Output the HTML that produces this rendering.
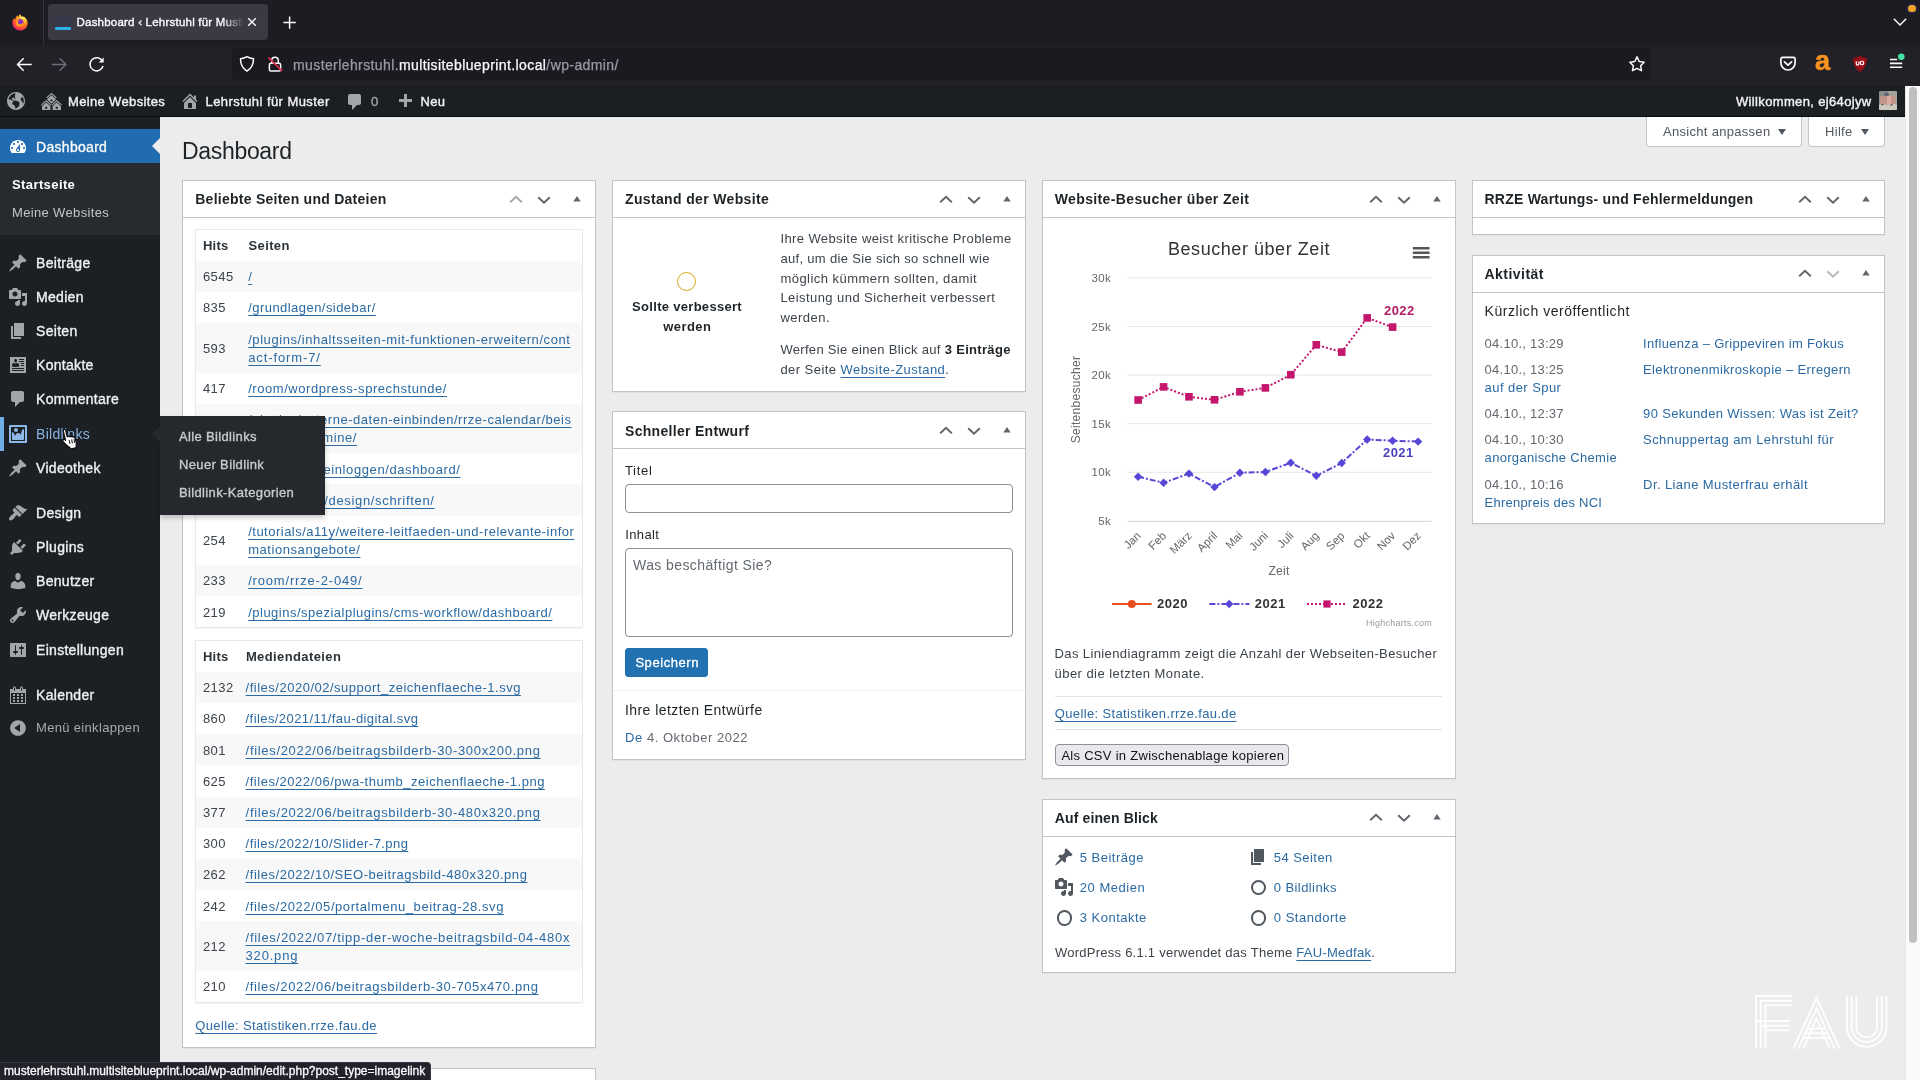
<!DOCTYPE html>
<html lang="de">
<head>
<meta charset="utf-8">
<title>Dashboard ‹ Lehrstuhl für Muster</title>
<style>
*{box-sizing:border-box}
html,body{margin:0;padding:0;width:1920px;height:1080px;overflow:hidden;background:#ececec}
body{opacity:.999;font-family:"Liberation Sans",sans-serif;font-size:13px;line-height:1.4;color:#3c434a;letter-spacing:.35px;position:relative}
a{color:#2271b1;text-decoration:underline}
svg{display:block}
.abs{position:absolute}

/* ---------- browser chrome ---------- */
#chrome{position:absolute;left:0;top:0;width:1920px;height:86px;background:#1c1b22;z-index:50;letter-spacing:0}
#tabstrip{position:absolute;left:0;top:0;width:1920px;height:45px;background:#1d1c23}
#navbar{position:absolute;left:0;top:45px;width:1920px;height:41px;background:#222128}
#tab{position:absolute;left:47.7px;top:4px;width:220.2px;height:36px;background:#3a3944;border-radius:4px}
#tabsep{position:absolute;left:43px;top:0;width:1px;height:45px;background:#34333d}
#tabtitle{position:absolute;left:76.5px;top:14.2px;width:168px;height:17px;overflow:hidden;white-space:nowrap;color:#fbfbfe;font-size:11.5px;font-weight:400;line-height:17px;letter-spacing:.22px;-webkit-text-stroke:.35px #fbfbfe;
 -webkit-mask-image:linear-gradient(90deg,#000 0,#000 146px,transparent 167px);mask-image:linear-gradient(90deg,#000 0,#000 146px,transparent 167px)}
#urlbar{position:absolute;left:232px;top:48px;width:1419px;height:32px;background:#1b1a20;border-radius:4px}
#urltext{position:absolute;left:293px;top:55.7px;font-size:14px;line-height:18px;color:#9a9aa6;-webkit-text-stroke:.25px currentColor;white-space:nowrap;letter-spacing:.4px}
#urltext b{color:#fbfbfe;font-weight:400}

/* ---------- WP admin bar ---------- */
#wpadminbar{position:absolute;left:0;top:86px;width:1904.5px;height:31px;background:#1c1f22;color:#f0f0f1;z-index:40;font-size:13px;line-height:32px;border-bottom:1px solid #0a0c0d}
#wpadminbar .t{position:absolute;top:0;white-space:nowrap;color:#f0f0f1;-webkit-text-stroke:.4px #f0f0f1}
#wpadminbar .i{position:absolute}

/* ---------- sidebar ---------- */
#adminmenuback{position:absolute;left:0;top:117px;width:160px;height:963px;background:#1c2024;z-index:10}
#adminmenu{position:absolute;left:0;top:128.6px;width:160px;z-index:11;margin:0;padding:0;list-style:none;color:#f0f0f1}
#adminmenu li{margin:0;padding:0;list-style:none;position:relative}
#adminmenu .top{display:block;height:34.2px;position:relative;font-size:14px;line-height:18.2px;color:#f0f0f1;-webkit-text-stroke:.35px #f0f0f1}
#adminmenu .top .n{position:absolute;left:36px;top:8px;white-space:nowrap;letter-spacing:.3px}
#adminmenu .top .ic{position:absolute;left:8px;top:7px;width:20px;height:20px}
#adminmenu .sep{height:5px;margin:0 0 6px}
#adminmenu .cur{background:#216bb0}
#adminmenu .cur .n{top:9.1px!important}
#adminmenu .cur .ic{top:8px!important}
#adminmenu .cur:after{content:"";position:absolute;right:0;top:9px;border:8px solid transparent;border-right-color:#ececec}
#adminmenu .sub{background:#272b2f;padding:8.1px 0 7.3px;margin:0}
#adminmenu .sub div{padding:5px 12px;font-size:13px;line-height:18.2px;color:#c3c4c7;white-space:nowrap}
#adminmenu .sub div.c{color:#fff;font-weight:700;letter-spacing:.4px}
#flyout{position:absolute;left:160px;top:416px;width:164.5px;height:99px;background:#25292d;z-index:30;box-shadow:0 3px 5px rgba(0,0,0,.2);padding:7px 0 8px}
#flyout:before{content:"";position:absolute;left:-8px;top:10px;border:8px solid transparent;border-left:0;border-right-color:#25292d}
#flyout div{padding:5px 12px 5px 19px;font-size:13px;line-height:18.2px;color:#c9cacd;white-space:nowrap;-webkit-text-stroke:.35px #c9cacd}

/* ---------- content ---------- */
#wpcontent{position:absolute;left:160px;top:117px;width:1745px;height:963px;background:#ececec;overflow:hidden}
h1{position:absolute;left:22px;top:20px;margin:0;font-size:23px;font-weight:400;line-height:29.9px;color:#1d2327;letter-spacing:-.32px;white-space:nowrap}
.metalink{position:absolute;top:0;height:30px;background:#fff;border:1px solid #c3c4c7;border-top:none;border-radius:0 0 4px 4px;color:#50575e;font-size:13px;line-height:30px;white-space:nowrap}
.postbox{position:absolute;background:#fff;border:1px solid #c3c4c7;box-shadow:0 1px 1px rgba(0,0,0,.04)}
.postbox .hd{position:relative;height:36.9px;border-bottom:1px solid #c3c4c7}
.postbox .hd h2{position:absolute;left:12px;top:9.4px;margin:0;font-size:14px;font-weight:700;line-height:19.6px;color:#1d2327;white-space:nowrap;letter-spacing:.2px}
.postbox .hd svg{position:absolute;top:0}
.inside{position:relative;padding:0 12px 12px;margin:11px 0 0}

.ln{position:absolute;white-space:pre}
.ln span{text-decoration-thickness:1px;text-underline-offset:2.6px;text-decoration-color:rgba(43,106,162,.7)}
.tri{position:absolute;top:11.5px;width:0;height:0;border:4px solid transparent;border-top:6px solid #50575e;border-bottom:0}
/* scrollbar */
#sb{position:absolute;left:1905px;top:85px;width:15px;height:995px;background:#fafafa;border-left:1px solid #e8e8e8;z-index:45}
#sb i{position:absolute;left:3px;top:2.2px;width:8px;height:856px;border-radius:4px;background:#c0c0c0}
#status{position:absolute;left:0;top:1062px;height:18px;width:431px;background:#23222b;color:#fbfbfe;font-size:12px;line-height:17px;padding-left:4px;border-top-right-radius:4px;border-top:1px solid #3a3944;border-right:1px solid #3a3944;z-index:60;white-space:nowrap;letter-spacing:0;-webkit-text-stroke:.3px #fbfbfe}
</style>
</head>
<body>

<!-- ================= BROWSER CHROME ================= -->
<div id="chrome">
  <div id="tabstrip"></div>
  <div id="navbar"></div>
  <div id="tabsep"></div>
  <div id="tab"></div>
  <div id="tabtitle">Dashboard ‹ Lehrstuhl für Muster ‹ FAU</div>
  <div id="urlbar"></div>
  <div id="urltext">musterlehrstuhl.<b>multisiteblueprint.local</b>/wp-admin/</div>
  <!--FIREFOX-ICONS-->
  <svg class="abs" style="left:11px;top:13px" width="18" height="18" viewBox="0 0 18 18"><defs>
<radialGradient id="ffa" cx="70%" cy="18%" r="95%"><stop offset="0" stop-color="#fff36e"/><stop offset=".28" stop-color="#ffbd2e"/><stop offset=".55" stop-color="#ff7a16"/><stop offset=".8" stop-color="#ff3750"/><stop offset="1" stop-color="#e31587"/></radialGradient>
<radialGradient id="ffb" cx="50%" cy="45%" r="50%"><stop offset="0" stop-color="#6a2bd9"/><stop offset=".7" stop-color="#9b2fc5"/><stop offset="1" stop-color="#d6306f" stop-opacity="0"/></radialGradient></defs>
<path d="M9.2 1.2c.9 1 1.3 1.9 1.5 2.6 1.2-.5 2.300-.2 3.100.5 2.100 1.700 3.100 4 2.800 6.600-.5 3.900-3.700 6.500-7.500 6.500-4.300 0-7.700-3.300-7.700-7.600 0-2 .7-3.600 1.800-4.800.1.800.5 1.500 1 2 .1-2.200 1.200-3.800 2.700-4.700 0 .9.300 1.700.9 2.200C7.600 3 8.100 1.900 9.200 1.200z" fill="url(#ffa)"/>
<circle cx="9.200" cy="9.600" r="3.900" fill="url(#ffb)"/>
<path d="M5.300 8.500c.9-1.300 2.500-1.700 3.700-1.100-1.300.1-2 .9-2 1.900 0 1.300 1.200 2.200 2.600 2 1.300-.2 2.200-1.100 2.300-2.300.7 1.600-.1 3.800-2.300 4.500-2.400.7-4.800-.9-4.900-3.300 0-.6.200-1.200.6-1.700z" fill="#ff9a1f"/></svg>
  <div class="abs" style="left:55px;top:17px;width:17px;height:10px;background:#2e3a5e;opacity:.3;border-radius:1px"></div>
  <div class="abs" style="left:54.6px;top:26.6px;width:16.8px;height:3px;background:#2db2e8;border-radius:1px"></div>
  <svg class="abs" style="left:246px;top:16px" width="12" height="12" viewBox="0 0 12 12"><path d="M2.200 2.300l7.600 7.500M9.800 2.300l-7.600 7.500" stroke="#fbfbfe" stroke-width="1.4" fill="none"/></svg>
  <svg class="abs" style="left:281px;top:14px" width="18" height="18" viewBox="0 0 18 18"><path d="M8.600 2.400v12.400M2.400 8.600h12.400" stroke="#fbfbfe" stroke-width="1.5" fill="none"/></svg>
  <svg class="abs" style="left:1891px;top:15px" width="18" height="14" viewBox="0 0 18 14"><path d="M2.800 3.800l6.200 6.200 6.200-6.200" stroke="#fbfbfe" stroke-width="1.5" fill="none"/></svg>
  <div class="abs" style="left:1908px;top:4.500px;width:7.5px;height:7.5px;border-radius:50%;background:#f5a623;box-shadow:0 0 0 1.500px #2a2450"></div>
  <svg class="abs" style="left:15px;top:55px" width="20" height="20" viewBox="0 0 20 20"><path d="M16.700 9.500H2.700M8.700 3.300L2.500 9.500l6.200 6.200" stroke="#fbfbfe" stroke-width="1.5" fill="none" stroke-linejoin="round"/></svg>
  <svg class="abs" style="left:49px;top:55px" width="20" height="20" viewBox="0 0 20 20"><path d="M2.700 9.500h14M10.700 3.300l6.200 6.200-6.200 6.200" stroke="#6d6c78" stroke-width="1.5" fill="none" stroke-linejoin="round"/></svg>
  <svg class="abs" style="left:87px;top:55px" width="20" height="20" viewBox="0 0 20 20"><path d="M15.500 6.300A6.600 6.600 0 1 0 16 11" stroke="#fbfbfe" stroke-width="1.500" fill="none"/><path d="M16.700 2.600v5h-5z" fill="#fbfbfe"/></svg>
  <svg class="abs" style="left:238px;top:55px" width="18" height="18" viewBox="0 0 18 18"><path d="M9 1.700c2 1.300 4.200 1.900 6.500 2.100 0 5.400-2 9.700-6.500 12.400C4.500 13.500 2.500 9.200 2.500 3.800 4.800 3.600 7 3 9 1.700z" stroke="#fbfbfe" stroke-width="1.500" fill="none" stroke-linejoin="round"/></svg>
  <svg class="abs" style="left:266px;top:55px" width="18" height="18" viewBox="0 0 18 18"><path d="M5.700 8V5.600a3.300 3.300 0 0 1 6.600 0V8" stroke="#fbfbfe" stroke-width="1.500" fill="none"/><rect x="3.400" y="8.200" width="11.200" height="7.800" rx="1.600" stroke="#fbfbfe" stroke-width="1.500" fill="none"/><path d="M2.500 2.600l13.500 13.400" stroke="#e22850" stroke-width="1.700"/></svg>
  <svg class="abs" style="left:1628px;top:55px" width="18" height="18" viewBox="0 0 18 18"><path d="M9 1.900l2.200 4.600 5 .700-3.600 3.500.900 5L9 13.300 4.500 15.700l.900-5L1.800 7.200l5-.700z" stroke="#fbfbfe" stroke-width="1.500" fill="none" stroke-linejoin="round"/></svg>
  <svg class="abs" style="left:1779px;top:55px" width="18" height="18" viewBox="0 0 18 18"><path d="M3.600 2.300h10.800c1 0 1.700.700 1.700 1.700v3.800c0 4-3.200 7.200-7.100 7.200S1.900 11.800 1.900 7.800V4c0-1 .700-1.700 1.700-1.700z" stroke="#fbfbfe" stroke-width="1.700" fill="none"/><path d="M5.400 6.800L9 10.200l3.600-3.400" stroke="#fbfbfe" stroke-width="1.700" fill="none" stroke-linecap="round" stroke-linejoin="round"/></svg>
  <div class="abs" style="left:1815px;top:45.500px;width:18px;height:30px;color:#f7931e;font-weight:700;font-size:27px;line-height:30px;letter-spacing:0;-webkit-text-stroke:.6px #f7931e">a</div>
  <svg class="abs" style="left:1851px;top:55px" width="18" height="18" viewBox="0 0 18 18"><path d="M9 .800c2.100 1.300 4.500 1.900 7 2.100 0 6.200-2.200 10.900-7 14C4.200 13.800 2 9.100 2 2.900 4.500 2.700 6.900 2.100 9 .800z" fill="#8c0f17"/><path d="M9 2.500c1.700 1 3.600 1.500 5.500 1.700-.1 5-1.900 8.600-5.500 11.100z" fill="#a5121d"/><path d="M5.300 6.200v2.500c0 1.800 2.600 1.800 2.600 0V6.200" stroke="#fff" stroke-width="1.200" fill="none"/><circle cx="11" cy="8" r="1.750" stroke="#fff" stroke-width="1.200" fill="none"/></svg>
  <svg class="abs" style="left:1888px;top:52px" width="20" height="20" viewBox="0 0 20 20"><path d="M2 7.500h7.200M2 11.400h12.200M2 15.300h12.200" stroke="#fbfbfe" stroke-width="1.600"/><circle cx="13.300" cy="4.800" r="4.300" fill="#22212a"/><circle cx="13.300" cy="4.800" r="3.300" fill="#45e0a4"/></svg>
  <!--/FIREFOX-ICONS-->
</div>

<!-- ================= WP ADMIN BAR ================= -->
<div id="wpadminbar">
  <!--ADMINBAR-->
  <div class="i" style="left:7px;top:6px"><svg width="18" height="18" viewBox="0 0 18 18" style=""><path fill="#a2a6ab" d="M9 0C4.03 0 0 4.03 0 9s4.03 9 9 9 9-4.03 9-9-4.03-9-9-9zm3.46 11.95c0 1.47-.8 3.3-4.06 4.7.3-4.17-2.52-3.69-3.2-5 .126-1.1.804-2.063 1.8-2.55-1.552-.266-3-.96-4.18-2 .05.47.28.904.64 1.21-.782-.295-1.458-.817-1.94-1.5.977-3.225 3.883-5.482 7.25-5.63-.84 1.38-1.5 4.13 0 5.57C7.23 7 6.26 5 5.41 5.79c-1.13 1.06.33 2.51 3.42 3.08 3.29.59 3.66 1.58 3.63 3.08zm1.34-4c-.32-1.11.62-2.23 1.69-3.14 1.356 1.955 1.67 4.45.84 6.68-.77-1.89-2.17-2.32-2.53-3.57v.03z"/></svg></div>
  <div class="i" style="left:41px;top:5px"><svg width="21" height="21" viewBox="0 0 20 20" style=""><path fill="#a2a6ab" d="M14.27 6.87L10 3.14 5.73 6.87 5 6.14l5-4.38 5 4.38zM14 8.42l-4.05 3.43L6 8.38v-.74l4-3.5 4 3.5v.78zM11 9.7V8H9v1.7h2zm-1.73 4.03L5 10 .73 13.73 0 13l5-4.38L10 13zm10 0L15 10l-4.27 3.73L10 13l5-4.38L20 13zM5 11l4 3.5V18H1v-3.5zm10 0l4 3.5V18h-8v-3.5zm-9 6v-2H4v2h2zm10 0v-2h-2v2h2z"/></svg></div>
  <div class="t" style="left:68px">Meine Websites</div>
  <div class="i" style="left:180px;top:5px"><svg width="20" height="20" viewBox="0 0 20 20" style=""><path fill="#a2a6ab" d="M16 8.5l1.53 1.53-1.06 1.06L10 4.62l-6.47 6.47-1.06-1.06L10 2.5l4 4v-2h2v4zm-6-2.46l6 5.99V18H4v-5.97zM12 17v-5H8v5h4z"/></svg></div>
  <div class="t" style="left:205.5px;letter-spacing:.43px">Lehrstuhl für Muster</div>
  <div class="i" style="left:345px;top:6px"><svg width="20" height="20" viewBox="0 0 20 20" style=""><path fill="#a2a6ab" d="M5 2h9c1.1 0 2 .9 2 2v7c0 1.1-.9 2-2 2h-2l-5 5v-5H5c-1.1 0-2-.9-2-2V4c0-1.1.9-2 2-2z"/></svg></div>
  <div class="t" style="left:371px;color:#a2a6ab;-webkit-text-stroke:.35px #a2a6ab">0</div>
  <div class="i" style="left:395px;top:6px"><svg width="20" height="20" viewBox="0 0 20 20" style=""><path fill="#a2a6ab" d="M17 7v3h-5v5H9v-5H4V7h5V2h3v5h5z"/></svg></div>
  <div class="t" style="left:420.5px">Neu</div>
  <div class="t" style="left:1736px">Willkommen, ej64ojyw</div>
  <div class="i" style="left:1879px;top:5.2px;width:18px;height:18.6px;overflow:hidden;border-radius:1.5px;background:#8d8a86">
<svg width="18" height="19" viewBox="0 0 18 19"><rect width="18" height="19" fill="#8b8e8c"/><rect x="9" width="9" height="19" fill="#a3a49b"/><rect x="1" y="4.6" width="15.500" height="10" rx="3" fill="#c4938a"/><rect x="8" y="5" width="4" height="9" fill="#e3b3aa" opacity=".8"/><ellipse cx="7.500" cy="3.300" rx="2.600" ry="1.900" fill="#5e6670"/><path d="M0 19v-5.200l4-1.600 4.500 2.300 5-2.300 4.500 1.600V19z" fill="#cdc9bf"/><path d="M2 14l3-1M11 14.500l3-1.500" stroke="#5a4d44" stroke-width="1"/></svg></div>
  <!--/ADMINBAR-->
</div>

<!-- ================= SIDEBAR ================= -->
<div id="adminmenuback"></div>
<ul id="adminmenu">
  <!--MENU-->
  <li><div class="top cur"><div class="ic"><svg width="20" height="20" viewBox="0 0 20 20" style=""><path fill="#fff" d="M3.76 16h12.48c1.1-1.37 1.76-3.11 1.76-5 0-4.42-3.58-8-8-8s-8 3.58-8 8c0 1.89.66 3.63 1.76 5zM10 4c.55 0 1 .45 1 1s-.45 1-1 1-1-.45-1-1 .45-1 1-1zM6 6c.55 0 1 .45 1 1s-.45 1-1 1-1-.45-1-1 .45-1 1-1zm8 0c.55 0 1 .45 1 1s-.45 1-1 1-1-.45-1-1 .45-1 1-1zm-5.37 5.55L12 7v6c0 1.1-.9 2-2 2s-2-.9-2-2c0-.57.24-1.08.63-1.45zM4 10c.55 0 1 .45 1 1s-.45 1-1 1-1-.45-1-1 .45-1 1-1zm12 0c.55 0 1 .45 1 1s-.45 1-1 1-1-.45-1-1 .45-1 1-1zm-5 3c0-.55-.45-1-1-1s-1 .45-1 1 .45 1 1 1 1-.45 1-1z"/></svg></div><div class="n" style="color:#fff">Dashboard</div></div><div class="sub"><div class="c">Startseite</div><div>Meine Websites</div></div></li>
  <li class="sep"></li>
  <li><div class="top "><div class="ic"><svg width="20" height="20" viewBox="0 0 20 20" style=""><path fill="#a2a6ab" d="M10.44 3.02l1.82-1.82 6.36 6.35-1.83 1.82c-1.05-.68-2.48-.57-3.41.36l-.75.75c-.92.93-1.04 2.35-.35 3.41l-1.83 1.82-2.41-2.41-2.8 2.79c-.42.42-3.38 2.71-3.8 2.29s1.86-3.39 2.28-3.81l2.79-2.79L4.1 9.36l1.83-1.82c1.05.69 2.48.57 3.4-.36l.75-.75c.93-.92 1.05-2.35.36-3.41z"/></svg></div><div class="n">Beiträge</div></div></li>
  <li><div class="top "><div class="ic"><svg width="20" height="20" viewBox="0 0 20 20" style=""><path fill="#a2a6ab" d="M13 11V4c0-.55-.45-1-1-1h-1.67L9 1H5L3.67 3H2c-.55 0-1 .45-1 1v7c0 .55.45 1 1 1h10c.55 0 1-.45 1-1zM7 4.5c1.38 0 2.5 1.12 2.5 2.5S8.38 9.5 7 9.5 4.5 8.38 4.5 7 5.62 4.5 7 4.5zM14 6h5v10.5c0 1.38-1.12 2.5-2.5 2.5S14 17.88 14 16.5s1.12-2.5 2.5-2.5c.17 0 .34.02.5.05V9h-3V6zm-4 8.05V13h2v3.5c0 1.38-1.12 2.5-2.5 2.5S7 17.88 7 16.5 8.12 14 9.5 14c.17 0 .34.02.5.05z"/></svg></div><div class="n">Medien</div></div></li>
  <li><div class="top "><div class="ic"><svg width="20" height="20" viewBox="0 0 20 20" style=""><path fill="#a2a6ab" d="M6 15V2h10v13H6zm-1 1h8v2H3V5h2v11z"/></svg></div><div class="n">Seiten</div></div></li>
  <li><div class="top "><div class="ic"><svg width="20" height="20" viewBox="0 0 20 20" style=""><path fill="#a2a6ab" d="M18 18H2V2h16v16zM8.05 7.53c.13-.07.24-.15.33-.24.09-.1.17-.21.24-.34.07-.14.13-.26.17-.37s.07-.22.1-.34L8.95 6c0-.04.01-.07.01-.09.05-.32.03-.61-.04-.9-.08-.28-.23-.52-.46-.72C8.23 4.1 7.95 4 7.6 4c-.2 0-.39.04-.56.11-.17.08-.31.18-.41.3-.11.13-.2.27-.27.44-.07.16-.11.33-.12.51s0 .36.01.55l.02.09c.01.06.03.15.06.25s.06.21.1.33.1.25.17.37c.08.12.16.23.25.33s.2.19.34.25c.13.06.28.09.43.09s.3-.03.43-.09zM16 5V4h-5v1h5zm0 2V6h-5v1h5zM7.62 8.83l-1.38-.88c-.41 0-.79.11-1.14.32-.35.22-.62.5-.81.85-.19.34-.29.7-.29 1.07v1.25l.2.05c.13.04.31.09.55.14.24.06.51.12.8.17.29.06.62.1 1 .14.37.04.73.06 1.07.06s.69-.02 1.07-.06.7-.09.98-.14c.27-.05.54-.1.82-.17.27-.06.45-.11.54-.13.09-.03.16-.05.21-.06v-1.25c0-.36-.1-.72-.31-1.07s-.49-.64-.84-.86-.72-.33-1.11-.33zM16 9V8h-3v1h3zm0 2v-1h-3v1h3zm0 3v-1H4v1h12zm0 2v-1H4v1h12z"/></svg></div><div class="n">Kontakte</div></div></li>
  <li><div class="top "><div class="ic"><svg width="20" height="20" viewBox="0 0 20 20" style=""><path fill="#a2a6ab" d="M5 2h9c1.1 0 2 .9 2 2v7c0 1.1-.9 2-2 2h-2l-5 5v-5H5c-1.1 0-2-.9-2-2V4c0-1.1.9-2 2-2z"/></svg></div><div class="n">Kommentare</div></div></li>
  <li><div class="top" style="color:#72aee6;-webkit-text-stroke:0;box-shadow:inset 4px 0 0 0 #72aee6"><div class="ic"><svg width="20" height="20" viewBox="0 0 20 20" style=""><path fill="#8db8e6" d="M2.25 1h15.5c.69 0 1.25.56 1.25 1.25v15.5c0 .69-.56 1.25-1.25 1.25H2.25C1.56 19 1 18.44 1 17.75V2.25C1 1.56 1.56 1 2.25 1zM17 17V3H3v14h14zM10 6c0-1.1-.9-2-2-2s-2 .9-2 2 .9 2 2 2 2-.9 2-2zm3 5s0-6 3-6v10c0 .55-.45 1-1 1H5c-.55 0-1-.45-1-1V8c2 0 3 4 3 4s1-3 3-3 3 2 3 2z"/></svg></div><div class="n" style="color:#86b3e3">Bildlinks</div></div></li>
  <li><div class="top "><div class="ic"><svg width="20" height="20" viewBox="0 0 20 20" style=""><path fill="#a2a6ab" d="M10.44 3.02l1.82-1.82 6.36 6.35-1.83 1.82c-1.05-.68-2.48-.57-3.41.36l-.75.75c-.92.93-1.04 2.35-.35 3.41l-1.83 1.82-2.41-2.41-2.8 2.79c-.42.42-3.38 2.71-3.8 2.29s1.86-3.39 2.28-3.81l2.79-2.79L4.1 9.36l1.83-1.82c1.05.69 2.48.57 3.4-.36l.75-.75c.93-.92 1.05-2.35.36-3.41z"/></svg></div><div class="n">Videothek</div></div></li>
  <li class="sep"></li>
  <li><div class="top "><div class="ic"><svg width="20" height="20" viewBox="0 0 20 20" style=""><path fill="#a2a6ab" d="M14.48 11.06L7.41 3.99l1.5-1.5c.5-.56 2.3-.47 3.51.32 1.21.8 1.43 1.28 2.91 2.1 1.18.64 2.45 1.26 4.45.85zm-.71.71L6.7 4.7 4.93 6.47c-.39.39-.39 1.02 0 1.41l1.06 1.06c.39.39.39 1.03 0 1.42-.6.6-1.43 1.11-2.21 1.69-.35.26-.7.53-1.01.84C1.43 14.23.4 16.08 1.4 17.07c.99 1 2.84-.03 4.18-1.36.31-.31.58-.66.85-1.02.57-.78 1.08-1.61 1.69-2.21.39-.39 1.02-.39 1.41 0l1.06 1.06c.39.39 1.02.39 1.41 0z"/></svg></div><div class="n">Design</div></div></li>
  <li><div class="top "><div class="ic"><svg width="20" height="20" viewBox="0 0 20 20" style=""><path fill="#a2a6ab" d="M13.11 4.36L9.87 7.6 8 5.73l3.24-3.24c.35-.34 1.05-.2 1.56.32.52.51.66 1.21.31 1.55zm-8 1.77l.91-1.12 9.01 9.01-1.19.84c-.71.71-2.63 1.16-3.82 1.16H6.14L4.9 17.26c-.59.59-1.54.59-2.12 0-.59-.58-.59-1.53 0-2.12l1.24-1.24v-3.88c0-1.13.4-3.19 1.09-3.89zm7.26 3.97l3.24-3.24c.34-.35 1.04-.21 1.55.31.52.51.66 1.21.31 1.55l-3.24 3.25z"/></svg></div><div class="n">Plugins</div></div></li>
  <li><div class="top "><div class="ic"><svg width="20" height="20" viewBox="0 0 20 20" style=""><path fill="#a2a6ab" d="M10 9.25c-2.27 0-2.73-3.44-2.73-3.44C7 4.02 7.82 2 9.97 2c2.16 0 2.98 2.02 2.71 3.81 0 0-.41 3.44-2.68 3.44zm0 2.57L12.72 10c2.39 0 4.52 2.33 4.52 4.53v2.49s-3.65 1.13-7.24 1.13c-3.65 0-7.24-1.13-7.24-1.13v-2.49c0-2.25 1.94-4.48 4.47-4.48z"/></svg></div><div class="n">Benutzer</div></div></li>
  <li><div class="top "><div class="ic"><svg width="20" height="20" viewBox="0 0 20 20" style=""><path fill="#a2a6ab" d="M16.68 9.77c-1.34 1.34-3.3 1.67-4.95.99l-5.41 6.52c-.99.99-2.59.99-3.58 0s-.99-2.59 0-3.57l6.52-5.42c-.68-1.65-.35-3.61.99-4.95 1.28-1.28 3.12-1.62 4.72-1.06l-2.89 2.89 2.82 2.82 2.86-2.87c.53 1.58.18 3.39-1.08 4.65zM3.81 16.21c.4.39 1.04.39 1.43 0 .4-.4.4-1.04 0-1.43-.39-.4-1.03-.4-1.43 0-.39.39-.39 1.03 0 1.43z"/></svg></div><div class="n">Werkzeuge</div></div></li>
  <li><div class="top "><div class="ic"><svg width="20" height="20" viewBox="0 0 20 20" style=""><path fill="#a2a6ab" d="M18 16V4c0-.55-.45-1-1-1H3c-.55 0-1 .45-1 1v12c0 .55.45 1 1 1h14c.55 0 1-.45 1-1zM8 11h1c.55 0 1 .45 1 1s-.45 1-1 1H8v1.5c0 .28-.22.5-.5.5s-.5-.22-.5-.5V13H6c-.55 0-1-.45-1-1s.45-1 1-1h1V5.5c0-.28.22-.5.5-.5s.5.22.5.5V11zm5-2h-1c-.55 0-1-.45-1-1s.45-1 1-1h1V5.5c0-.28.22-.5.5-.5s.5.22.5.5V7h1c.55 0 1 .45 1 1s-.45 1-1 1h-1v5.5c0 .28-.22.5-.5.5s-.5-.22-.5-.5V9z"/></svg></div><div class="n">Einstellungen</div></div></li>
  <li class="sep"></li>
  <li><div class="top "><div class="ic"><svg width="20" height="20" viewBox="0 0 20 20" style=""><path fill="#a2a6ab" d="M15 4h3v15H2V4h3V3c0-.41.15-.76.44-1.06.29-.29.65-.44 1.06-.44s.77.15 1.06.44c.29.3.44.65.44 1.06v1h4V3c0-.41.15-.76.44-1.06.29-.29.65-.44 1.06-.44s.77.15 1.06.44c.29.3.44.65.44 1.06v1zM6 3v2.5c0 .14.05.26.15.36.09.09.21.14.35.14s.26-.05.35-.14c.1-.1.15-.22.15-.36V3c0-.14-.05-.26-.15-.35-.09-.1-.21-.15-.35-.15s-.26.05-.35.15c-.1.09-.15.21-.15.35zm7 0v2.5c0 .14.05.26.14.36.1.09.22.14.36.14s.26-.05.36-.14c.09-.1.14-.22.14-.36V3c0-.14-.05-.26-.14-.35-.1-.1-.22-.15-.36-.15s-.26.05-.36.15c-.09.09-.14.21-.14.35zm4 15V8H3v10h14zM7 9v2H5V9h2zm2 0h2v2H9V9zm4 2V9h2v2h-2zm-6 1v2H5v-2h2zm2 0h2v2H9v-2zm4 2v-2h2v2h-2zm-6 1v2H5v-2h2zm4 2H9v-2h2v2zm4 0h-2v-2h2v2z"/></svg></div><div class="n">Kalender</div></div></li>
  <li><div class="top" style="height:32px;font-size:13px;color:#a7aaad;-webkit-text-stroke:0"><div class="ic" style="top:6px"><svg width="20" height="20" viewBox="0 0 20 20" style=""><path fill="#a2a6ab" d="M10 2.16c4.33 0 7.84 3.51 7.84 7.84s-3.51 7.84-7.84 7.84S2.16 14.33 2.16 10 5.67 2.16 10 2.16zm2 11.72V6.12L6.18 9.97z"/></svg></div><div class="n" style="top:7px;letter-spacing:.33px">Menü einklappen</div></div></li>
  <!--/MENU-->
</ul>
<div id="flyout"><div>Alle Bildlinks</div><div>Neuer Bildlink</div><div>Bildlink-Kategorien</div></div>

<!-- ================= CONTENT ================= -->
<div id="wpcontent">
  <h1>Dashboard</h1>
  <!--METALINKS-->
  <div class="metalink" style="left:1486px;width:155.500px"><span style="position:absolute;left:16px;letter-spacing:.3px">Ansicht anpassen</span><i class="tri" style="left:130.500px"></i></div><div class="metalink" style="left:1648px;width:76.500px"><span style="position:absolute;left:16px;letter-spacing:.3px">Hilfe</span><i class="tri" style="left:51.500px"></i></div>
  <!--/METALINKS-->
  <!--WIDGETS-->
  <div class="postbox" style="left:22.25px;top:63.00px;width:413.75px;height:868.40px"><div class="hd"><h2 style="letter-spacing:0.257px">Beliebte Seiten und Dateien</h2><svg width="20" height="20" viewBox="0 0 20 20" style="left:322.75px;top:8.6px"><path d="M4.2 12.3l5.8-5.6 5.8 5.6" fill="none" stroke="#a4a7aa" stroke-width="1.9"/></svg><svg width="20" height="20" viewBox="0 0 20 20" style="left:350.75px;top:8.6px"><path d="M4.2 7.2l5.8 5.6 5.8-5.6" fill="none" stroke="#60656b" stroke-width="1.9"/></svg><svg width="20" height="20" viewBox="0 0 20 20" style="left:383.75px;top:8.6px"><path d="M6.3 11.5L10 5.9l3.7 5.6z" fill="#60656b"/></svg></div></div>
  <div style="position:absolute;left:35.25px;top:111.60px;width:387.75px;height:399.80px;border:1px solid #e9e9eb;background:#fff;box-shadow:0 1px 1px rgba(0,0,0,.04)"></div>
  <div class="ln" style="left:42.90px;top:119.80px;font-size:13px;line-height:18.2px;letter-spacing:0.3px;font-weight:700;color:#2c3338;">Hits</div>
  <div class="ln" style="left:88.50px;top:119.80px;font-size:13px;line-height:18.2px;letter-spacing:0.377px;font-weight:700;color:#2c3338;">Seiten</div>
  <div style="position:absolute;left:36.25px;top:143.80px;width:385.75px;height:31.20px;background:#f8f8f9"></div>
  <div class="ln" style="left:42.90px;top:151.10px;font-size:13px;line-height:18.2px;letter-spacing:0.5px;color:#3c434a;">6545</div>
  <div class="ln" style="left:88.20px;top:151.10px;font-size:13px;line-height:18.2px;letter-spacing:0.35px;color:#2b6aa2;"><span style="text-decoration:underline">/</span></div>
  <div class="ln" style="left:42.90px;top:182.30px;font-size:13px;line-height:18.2px;letter-spacing:0.5px;color:#3c434a;">835</div>
  <div class="ln" style="left:88.20px;top:182.30px;font-size:13px;line-height:18.2px;letter-spacing:0.451px;color:#2b6aa2;"><span style="text-decoration:underline">/grundlagen/sidebar/</span></div>
  <div style="position:absolute;left:36.25px;top:206.20px;width:385.75px;height:49.40px;background:#f8f8f9"></div>
  <div class="ln" style="left:42.90px;top:222.60px;font-size:13px;line-height:18.2px;letter-spacing:0.5px;color:#3c434a;">593</div>
  <div class="ln" style="left:88.20px;top:213.50px;font-size:13px;line-height:18.2px;letter-spacing:0.569px;color:#2b6aa2;"><span style="text-decoration:underline">/plugins/inhaltsseiten-mit-funktionen-erweitern/cont</span></div>
  <div class="ln" style="left:88.20px;top:231.70px;font-size:13px;line-height:18.2px;letter-spacing:0.886px;color:#2b6aa2;"><span style="text-decoration:underline">act-form-7/</span></div>
  <div class="ln" style="left:42.90px;top:262.90px;font-size:13px;line-height:18.2px;letter-spacing:0.5px;color:#3c434a;">417</div>
  <div class="ln" style="left:88.20px;top:262.90px;font-size:13px;line-height:18.2px;letter-spacing:0.55px;color:#2b6aa2;"><span style="text-decoration:underline">/room/wordpress-sprechstunde/</span></div>
  <div style="position:absolute;left:36.25px;top:286.80px;width:385.75px;height:49.40px;background:#f8f8f9"></div>
  <div class="ln" style="left:42.90px;top:303.20px;font-size:13px;line-height:18.2px;letter-spacing:0.5px;color:#3c434a;">345</div>
  <div class="ln" style="left:88.20px;top:294.10px;font-size:13px;line-height:18.2px;letter-spacing:0.514px;color:#2b6aa2;"><span style="text-decoration:underline">/plugins/externe-daten-einbinden/rrze-calendar/beis</span></div>
  <div class="ln" style="left:88.20px;top:312.30px;font-size:13px;line-height:18.2px;letter-spacing:0.584px;color:#2b6aa2;"><span style="text-decoration:underline">piel-fuer-termine/</span></div>
  <div class="ln" style="left:42.90px;top:343.50px;font-size:13px;line-height:18.2px;letter-spacing:0.5px;color:#3c434a;">298</div>
  <div class="ln" style="left:88.20px;top:343.50px;font-size:13px;line-height:18.2px;letter-spacing:0.599px;color:#2b6aa2;"><span style="text-decoration:underline">/dashboard/einloggen/dashboard/</span></div>
  <div style="position:absolute;left:36.25px;top:367.40px;width:385.75px;height:31.20px;background:#f8f8f9"></div>
  <div class="ln" style="left:42.90px;top:374.70px;font-size:13px;line-height:18.2px;letter-spacing:0.5px;color:#3c434a;">271</div>
  <div class="ln" style="left:88.20px;top:374.70px;font-size:13px;line-height:18.2px;letter-spacing:0.67px;color:#2b6aa2;"><span style="text-decoration:underline">/grundlagen/design/schriften/</span></div>
  <div class="ln" style="left:42.90px;top:415.00px;font-size:13px;line-height:18.2px;letter-spacing:0.5px;color:#3c434a;">254</div>
  <div class="ln" style="left:88.20px;top:405.90px;font-size:13px;line-height:18.2px;letter-spacing:0.491px;color:#2b6aa2;"><span style="text-decoration:underline">/tutorials/a11y/weitere-leitfaeden-und-relevante-infor</span></div>
  <div class="ln" style="left:88.20px;top:424.10px;font-size:13px;line-height:18.2px;letter-spacing:0.556px;color:#2b6aa2;"><span style="text-decoration:underline">mationsangebote/</span></div>
  <div style="position:absolute;left:36.25px;top:448.00px;width:385.75px;height:31.20px;background:#f8f8f9"></div>
  <div class="ln" style="left:42.90px;top:455.30px;font-size:13px;line-height:18.2px;letter-spacing:0.5px;color:#3c434a;">233</div>
  <div class="ln" style="left:88.20px;top:455.30px;font-size:13px;line-height:18.2px;letter-spacing:0.817px;color:#2b6aa2;"><span style="text-decoration:underline">/room/rrze-2-049/</span></div>
  <div class="ln" style="left:42.90px;top:486.50px;font-size:13px;line-height:18.2px;letter-spacing:0.5px;color:#3c434a;">219</div>
  <div class="ln" style="left:88.20px;top:486.50px;font-size:13px;line-height:18.2px;letter-spacing:0.491px;color:#2b6aa2;"><span style="text-decoration:underline">/plugins/spezialplugins/cms-workflow/dashboard/</span></div>
  <div style="position:absolute;left:35.25px;top:522.60px;width:387.75px;height:363.40px;border:1px solid #e9e9eb;background:#fff;box-shadow:0 1px 1px rgba(0,0,0,.04)"></div>
  <div class="ln" style="left:42.90px;top:530.80px;font-size:13px;line-height:18.2px;letter-spacing:0.3px;font-weight:700;color:#2c3338;">Hits</div>
  <div class="ln" style="left:85.90px;top:530.80px;font-size:13px;line-height:18.2px;letter-spacing:0.392px;font-weight:700;color:#2c3338;">Mediendateien</div>
  <div style="position:absolute;left:36.25px;top:554.80px;width:385.75px;height:31.20px;background:#f8f8f9"></div>
  <div class="ln" style="left:42.90px;top:562.10px;font-size:13px;line-height:18.2px;letter-spacing:0.5px;color:#3c434a;">2132</div>
  <div class="ln" style="left:85.60px;top:562.10px;font-size:13px;line-height:18.2px;letter-spacing:0.503px;color:#2b6aa2;"><span style="text-decoration:underline">/files/2020/02/support_zeichenflaeche-1.svg</span></div>
  <div class="ln" style="left:42.90px;top:593.30px;font-size:13px;line-height:18.2px;letter-spacing:0.5px;color:#3c434a;">860</div>
  <div class="ln" style="left:85.60px;top:593.30px;font-size:13px;line-height:18.2px;letter-spacing:0.417px;color:#2b6aa2;"><span style="text-decoration:underline">/files/2021/11/fau-digital.svg</span></div>
  <div style="position:absolute;left:36.25px;top:617.20px;width:385.75px;height:31.20px;background:#f8f8f9"></div>
  <div class="ln" style="left:42.90px;top:624.50px;font-size:13px;line-height:18.2px;letter-spacing:0.5px;color:#3c434a;">801</div>
  <div class="ln" style="left:85.60px;top:624.50px;font-size:13px;line-height:18.2px;letter-spacing:0.677px;color:#2b6aa2;"><span style="text-decoration:underline">/files/2022/06/beitragsbilderb-30-300x200.png</span></div>
  <div class="ln" style="left:42.90px;top:655.70px;font-size:13px;line-height:18.2px;letter-spacing:0.5px;color:#3c434a;">625</div>
  <div class="ln" style="left:85.60px;top:655.70px;font-size:13px;line-height:18.2px;letter-spacing:0.516px;color:#2b6aa2;"><span style="text-decoration:underline">/files/2022/06/pwa-thumb_zeichenflaeche-1.png</span></div>
  <div style="position:absolute;left:36.25px;top:679.60px;width:385.75px;height:31.20px;background:#f8f8f9"></div>
  <div class="ln" style="left:42.90px;top:686.90px;font-size:13px;line-height:18.2px;letter-spacing:0.5px;color:#3c434a;">377</div>
  <div class="ln" style="left:85.60px;top:686.90px;font-size:13px;line-height:18.2px;letter-spacing:0.677px;color:#2b6aa2;"><span style="text-decoration:underline">/files/2022/06/beitragsbilderb-30-480x320.png</span></div>
  <div class="ln" style="left:42.90px;top:718.10px;font-size:13px;line-height:18.2px;letter-spacing:0.5px;color:#3c434a;">300</div>
  <div class="ln" style="left:85.60px;top:718.10px;font-size:13px;line-height:18.2px;letter-spacing:0.433px;color:#2b6aa2;"><span style="text-decoration:underline">/files/2022/10/Slider-7.png</span></div>
  <div style="position:absolute;left:36.25px;top:742.00px;width:385.75px;height:31.20px;background:#f8f8f9"></div>
  <div class="ln" style="left:42.90px;top:749.30px;font-size:13px;line-height:18.2px;letter-spacing:0.5px;color:#3c434a;">262</div>
  <div class="ln" style="left:85.60px;top:749.30px;font-size:13px;line-height:18.2px;letter-spacing:0.537px;color:#2b6aa2;"><span style="text-decoration:underline">/files/2022/10/SEO-beitragsbild-480x320.png</span></div>
  <div class="ln" style="left:42.90px;top:780.50px;font-size:13px;line-height:18.2px;letter-spacing:0.5px;color:#3c434a;">242</div>
  <div class="ln" style="left:85.60px;top:780.50px;font-size:13px;line-height:18.2px;letter-spacing:0.569px;color:#2b6aa2;"><span style="text-decoration:underline">/files/2022/05/portalmenu_beitrag-28.svg</span></div>
  <div style="position:absolute;left:36.25px;top:804.40px;width:385.75px;height:49.40px;background:#f8f8f9"></div>
  <div class="ln" style="left:42.90px;top:820.80px;font-size:13px;line-height:18.2px;letter-spacing:0.5px;color:#3c434a;">212</div>
  <div class="ln" style="left:85.60px;top:811.70px;font-size:13px;line-height:18.2px;letter-spacing:0.709px;color:#2b6aa2;"><span style="text-decoration:underline">/files/2022/07/tipp-der-woche-beitragsbild-04-480x</span></div>
  <div class="ln" style="left:85.60px;top:829.90px;font-size:13px;line-height:18.2px;letter-spacing:0.8px;color:#2b6aa2;"><span style="text-decoration:underline">320.png</span></div>
  <div class="ln" style="left:42.90px;top:861.10px;font-size:13px;line-height:18.2px;letter-spacing:0.5px;color:#3c434a;">210</div>
  <div class="ln" style="left:85.60px;top:861.10px;font-size:13px;line-height:18.2px;letter-spacing:0.631px;color:#2b6aa2;"><span style="text-decoration:underline">/files/2022/06/beitragsbilderb-30-705x470.png</span></div>
  <div class="ln" style="left:35.30px;top:899.70px;font-size:13px;line-height:18.2px;letter-spacing:0.359px;color:#2b6aa2;"><span style="text-decoration:underline">Quelle: Statistiken.rrze.fau.de</span></div>
  <div style="position:absolute;left:22.25px;top:951.40px;width:413.75px;height:40.00px;background:#fff;border:1px solid #c3c4c7"></div>
  <div class="postbox" style="left:452.00px;top:63.00px;width:413.75px;height:211.60px"><div class="hd"><h2 style="letter-spacing:0.353px">Zustand der Website</h2><svg width="20" height="20" viewBox="0 0 20 20" style="left:322.75px;top:8.6px"><path d="M4.2 12.3l5.8-5.6 5.8 5.6" fill="none" stroke="#60656b" stroke-width="1.9"/></svg><svg width="20" height="20" viewBox="0 0 20 20" style="left:350.75px;top:8.6px"><path d="M4.2 7.2l5.8 5.6 5.8-5.6" fill="none" stroke="#60656b" stroke-width="1.9"/></svg><svg width="20" height="20" viewBox="0 0 20 20" style="left:383.75px;top:8.6px"><path d="M6.3 11.5L10 5.9l3.7 5.6z" fill="#60656b"/></svg></div></div>
  <div style="position:absolute;left:516.80px;top:154.70px;width:19.20px;height:19.20px;border:1.6px solid #dba617;border-radius:50%;background:#fff"></div>
  <div class="ln" style="left:472.10px;top:180.05px;font-size:13px;line-height:19.5px;letter-spacing:0.301px;font-weight:700;color:#1d2327;">Sollte verbessert</div>
  <div class="ln" style="left:503.20px;top:199.75px;font-size:13px;line-height:19.5px;letter-spacing:0.437px;font-weight:700;color:#1d2327;">werden</div>
  <div class="ln" style="left:620.40px;top:112.45px;font-size:13px;line-height:19.5px;letter-spacing:0.397px;color:#3c434a;">Ihre Website weist kritische Probleme</div>
  <div class="ln" style="left:620.40px;top:132.05px;font-size:13px;line-height:19.5px;letter-spacing:0.324px;color:#3c434a;">auf, um die Sie sich so schnell wie</div>
  <div class="ln" style="left:620.40px;top:151.55px;font-size:13px;line-height:19.5px;letter-spacing:0.466px;color:#3c434a;">möglich kümmern sollten, damit</div>
  <div class="ln" style="left:620.40px;top:171.15px;font-size:13px;line-height:19.5px;letter-spacing:0.434px;color:#3c434a;">Leistung und Sicherheit verbessert</div>
  <div class="ln" style="left:620.40px;top:190.65px;font-size:13px;line-height:19.5px;letter-spacing:0.508px;color:#3c434a;">werden.</div>
  <div class="ln" style="left:620.40px;top:223.25px;font-size:13px;line-height:19.5px;letter-spacing:0.314px;color:#3c434a;">Werfen Sie einen Blick auf <span style="font-weight:700;color:#1d2327">3 Einträge</span></div>
  <div class="ln" style="left:620.40px;top:242.75px;font-size:13px;line-height:19.5px;letter-spacing:0.448px;color:#3c434a;">der Seite <span style="color:#2b6aa2;text-decoration:underline">Website-Zustand</span>.</div>
  <div class="postbox" style="left:452.00px;top:294.20px;width:413.75px;height:348.40px"><div class="hd"><h2 style="letter-spacing:0.304px">Schneller Entwurf</h2><svg width="20" height="20" viewBox="0 0 20 20" style="left:322.75px;top:8.6px"><path d="M4.2 12.3l5.8-5.6 5.8 5.6" fill="none" stroke="#60656b" stroke-width="1.9"/></svg><svg width="20" height="20" viewBox="0 0 20 20" style="left:350.75px;top:8.6px"><path d="M4.2 7.2l5.8 5.6 5.8-5.6" fill="none" stroke="#60656b" stroke-width="1.9"/></svg><svg width="20" height="20" viewBox="0 0 20 20" style="left:383.75px;top:8.6px"><path d="M6.3 11.5L10 5.9l3.7 5.6z" fill="#60656b"/></svg></div></div>
  <div class="ln" style="left:464.90px;top:345.30px;font-size:13px;line-height:18.2px;letter-spacing:0.73px;color:#1d2327;">Titel</div>
  <div style="position:absolute;left:465.00px;top:366.60px;width:387.50px;height:29.60px;border:1px solid #8c8f94;border-radius:4px;background:#fff"></div>
  <div class="ln" style="left:465.20px;top:408.90px;font-size:13px;line-height:18.2px;letter-spacing:0.377px;color:#1d2327;">Inhalt</div>
  <div style="position:absolute;left:465.00px;top:431.30px;width:387.50px;height:89.00px;border:1px solid #8c8f94;border-radius:4px;background:#fff"></div>
  <div class="ln" style="left:473.10px;top:439.35px;font-size:14px;line-height:19.6px;letter-spacing:0.4px;color:#646970;">Was beschäftigt Sie?</div>
  <div style="position:absolute;left:465.00px;top:530.60px;width:83.20px;height:29.00px;background:#2271b1;border:1px solid #2271b1;border-radius:3px"></div>
  <div class="ln" style="left:475.40px;top:536.70px;font-size:13px;line-height:18.2px;letter-spacing:0.557px;color:#fff;-webkit-text-stroke:.3px #fff;">Speichern</div>
  <div style="position:absolute;left:453.00px;top:573.00px;width:411.75px;height:1.00px;background:#f0f0f1"></div>
  <div class="ln" style="left:464.90px;top:584.05px;font-size:14px;line-height:19.6px;letter-spacing:0.445px;color:#1d2327;">Ihre letzten Entwürfe</div>
  <div class="ln" style="left:465.10px;top:612.10px;font-size:13px;line-height:18.2px;letter-spacing:0.531px;"><span style="color:#2b6aa2">De</span><span style="color:#646970"> 4. Oktober 2022</span></div>
  <div class="postbox" style="left:881.75px;top:63.00px;width:413.75px;height:598.70px"><div class="hd"><h2 style="letter-spacing:0.37px">Website-Besucher über Zeit</h2><svg width="20" height="20" viewBox="0 0 20 20" style="left:322.75px;top:8.6px"><path d="M4.2 12.3l5.8-5.6 5.8 5.6" fill="none" stroke="#60656b" stroke-width="1.9"/></svg><svg width="20" height="20" viewBox="0 0 20 20" style="left:350.75px;top:8.6px"><path d="M4.2 7.2l5.8 5.6 5.8-5.6" fill="none" stroke="#60656b" stroke-width="1.9"/></svg><svg width="20" height="20" viewBox="0 0 20 20" style="left:383.75px;top:8.6px"><path d="M6.3 11.5L10 5.9l3.7 5.6z" fill="#60656b"/></svg></div></div>
  <svg width="411" height="420" viewBox="1043 218 411 420" style="position:absolute;left:883px;top:101px;letter-spacing:0" font-family="Liberation Sans, sans-serif"><path d="M1127.6 277.9H1431.8" stroke="#e6e6e6" stroke-width="1"/><path d="M1127.6 326.5H1431.8" stroke="#e6e6e6" stroke-width="1"/><path d="M1127.6 375.1H1431.8" stroke="#e6e6e6" stroke-width="1"/><path d="M1127.6 423.7H1431.8" stroke="#e6e6e6" stroke-width="1"/><path d="M1127.6 472.3H1431.8" stroke="#e6e6e6" stroke-width="1"/><path d="M1127.6 521.3H1431.8" stroke="#d2d2d2" stroke-width="1"/><text x="1111" y="281.9" text-anchor="end" font-size="11.5" fill="#666" letter-spacing=".35">30k</text><text x="1111" y="330.5" text-anchor="end" font-size="11.5" fill="#666" letter-spacing=".35">25k</text><text x="1111" y="379.1" text-anchor="end" font-size="11.5" fill="#666" letter-spacing=".35">20k</text><text x="1111" y="427.7" text-anchor="end" font-size="11.5" fill="#666" letter-spacing=".35">15k</text><text x="1111" y="476.3" text-anchor="end" font-size="11.5" fill="#666" letter-spacing=".35">10k</text><text x="1111" y="524.9" text-anchor="end" font-size="11.5" fill="#666" letter-spacing=".35">5k</text><text transform="translate(1079.5 399.5) rotate(-90)" text-anchor="middle" font-size="12" fill="#666" letter-spacing=".3">Seitenbesucher</text><text x="1249" y="255" text-anchor="middle" font-size="18" fill="#333" letter-spacing=".55">Besucher über Zeit</text><rect x="1412.8" y="247.1" width="16.8" height="2.3" rx=".6" fill="#555"/><rect x="1412.8" y="251.6" width="16.8" height="2.3" rx=".6" fill="#555"/><rect x="1412.8" y="256.09999999999997" width="16.8" height="2.3" rx=".6" fill="#555"/><path d="M1138.1 476.7 L1163.6 482.8 L1189.0 473.6 L1214.5 487.1 L1239.9 472.7 L1265.4 472.0 L1290.8 462.8 L1316.3 475.8 L1341.7 463.0 L1367.2 439.5 L1392.6 440.7 L1418.1 441.6" fill="none" stroke="#5848d8" stroke-width="2" stroke-dasharray="6 2 2 2" stroke-linejoin="round"/><path d="M1138.1 472.5l4.2 4.2l-4.2 4.2l-4.2-4.2z" fill="#5546d6"/><path d="M1163.6 478.6l4.2 4.2l-4.2 4.2l-4.2-4.2z" fill="#5546d6"/><path d="M1189.0 469.4l4.2 4.2l-4.2 4.2l-4.2-4.2z" fill="#5546d6"/><path d="M1214.5 482.9l4.2 4.2l-4.2 4.2l-4.2-4.2z" fill="#5546d6"/><path d="M1239.9 468.5l4.2 4.2l-4.2 4.2l-4.2-4.2z" fill="#5546d6"/><path d="M1265.4 467.8l4.2 4.2l-4.2 4.2l-4.2-4.2z" fill="#5546d6"/><path d="M1290.8 458.6l4.2 4.2l-4.2 4.2l-4.2-4.2z" fill="#5546d6"/><path d="M1316.3 471.6l4.2 4.2l-4.2 4.2l-4.2-4.2z" fill="#5546d6"/><path d="M1341.7 458.8l4.2 4.2l-4.2 4.2l-4.2-4.2z" fill="#5546d6"/><path d="M1367.2 435.3l4.2 4.2l-4.2 4.2l-4.2-4.2z" fill="#5546d6"/><path d="M1392.6 436.5l4.2 4.2l-4.2 4.2l-4.2-4.2z" fill="#5546d6"/><path d="M1418.1 437.4l4.2 4.2l-4.2 4.2l-4.2-4.2z" fill="#5546d6"/><path d="M1138.1 400.0 L1163.6 386.9 L1189.0 396.8 L1214.5 399.8 L1239.9 391.8 L1265.4 387.9 L1290.8 374.7 L1316.3 344.8 L1341.7 352.1 L1367.2 317.9 L1392.6 327.1" fill="none" stroke="#c4166c" stroke-width="2" stroke-dasharray="2 2" stroke-linejoin="round"/><rect x="1134.3" y="396.2" width="7.6" height="7.6" fill="#c4166c"/><rect x="1159.8" y="383.1" width="7.6" height="7.6" fill="#c4166c"/><rect x="1185.2" y="393.0" width="7.6" height="7.6" fill="#c4166c"/><rect x="1210.7" y="396.0" width="7.6" height="7.6" fill="#c4166c"/><rect x="1236.1" y="388.0" width="7.6" height="7.6" fill="#c4166c"/><rect x="1261.6" y="384.1" width="7.6" height="7.6" fill="#c4166c"/><rect x="1287.0" y="370.9" width="7.6" height="7.6" fill="#c4166c"/><rect x="1312.5" y="341.0" width="7.6" height="7.6" fill="#c4166c"/><rect x="1337.9" y="348.3" width="7.6" height="7.6" fill="#c4166c"/><rect x="1363.4" y="314.1" width="7.6" height="7.6" fill="#c4166c"/><rect x="1388.8" y="323.3" width="7.6" height="7.6" fill="#c4166c"/><text x="1384" y="315" font-size="13" font-weight="700" fill="#b01a63" letter-spacing=".4">2022</text><text x="1383" y="457" font-size="13" font-weight="700" fill="#4a3fc0" letter-spacing=".4">2021</text><text transform="translate(1141.6 536.5) rotate(-45)" text-anchor="end" font-size="11.5" fill="#666">Jan</text><text transform="translate(1167.1 536.5) rotate(-45)" text-anchor="end" font-size="11.5" fill="#666">Feb</text><text transform="translate(1192.5 536.5) rotate(-45)" text-anchor="end" font-size="11.5" fill="#666">März</text><text transform="translate(1218.0 536.5) rotate(-45)" text-anchor="end" font-size="11.5" fill="#666">April</text><text transform="translate(1243.4 536.5) rotate(-45)" text-anchor="end" font-size="11.5" fill="#666">Mai</text><text transform="translate(1268.9 536.5) rotate(-45)" text-anchor="end" font-size="11.5" fill="#666">Juni</text><text transform="translate(1294.3 536.5) rotate(-45)" text-anchor="end" font-size="11.5" fill="#666">Juli</text><text transform="translate(1319.8 536.5) rotate(-45)" text-anchor="end" font-size="11.5" fill="#666">Aug</text><text transform="translate(1345.2 536.5) rotate(-45)" text-anchor="end" font-size="11.5" fill="#666">Sep</text><text transform="translate(1370.7 536.5) rotate(-45)" text-anchor="end" font-size="11.5" fill="#666">Okt</text><text transform="translate(1396.1 536.5) rotate(-45)" text-anchor="end" font-size="11.5" fill="#666">Nov</text><text transform="translate(1421.6 536.5) rotate(-45)" text-anchor="end" font-size="11.5" fill="#666">Dez</text><text x="1279" y="574.8" text-anchor="middle" font-size="12" fill="#666" letter-spacing=".3">Zeit</text><path d="M1112 604H1151.6" stroke="#e8501f" stroke-width="2"/><circle cx="1131.8" cy="604" r="4" fill="#e8501f"/><text x="1157" y="608.3" font-size="13" font-weight="700" fill="#333" letter-spacing=".5">2020</text><path d="M1209.4 604H1249.4" stroke="#5848d8" stroke-width="2" stroke-dasharray="6 2 2 2"/><path d="M1229.2 599.8l4.2 4.2l-4.2 4.2l-4.2-4.2z" fill="#5546d6"/><text x="1254.8" y="608.3" font-size="13" font-weight="700" fill="#333" letter-spacing=".5">2021</text><path d="M1307 604H1345.6" stroke="#c4166c" stroke-width="2" stroke-dasharray="2 2"/><rect x="1323.4" y="600.4" width="7.2" height="7.2" fill="#c4166c"/><text x="1352.6" y="608.3" font-size="13" font-weight="700" fill="#333" letter-spacing=".5">2022</text><text x="1432" y="625.7" text-anchor="end" font-size="9" fill="#999" letter-spacing=".25">Highcharts.com</text></svg>
  <div class="ln" style="left:894.60px;top:527.45px;font-size:13px;line-height:19.5px;letter-spacing:0.382px;color:#3c434a;">Das Liniendiagramm zeigt die Anzahl der Webseiten-Besucher</div>
  <div class="ln" style="left:894.60px;top:546.95px;font-size:13px;line-height:19.5px;letter-spacing:0.44px;color:#3c434a;">über die letzten Monate.</div>
  <div style="position:absolute;left:894.70px;top:579.20px;width:387.80px;height:1.00px;background:#e3e3e5"></div>
  <div class="ln" style="left:894.80px;top:588.40px;font-size:13px;line-height:18.2px;letter-spacing:0.362px;color:#2b6aa2;"><span style="text-decoration:underline">Quelle: Statistiken.rrze.fau.de</span></div>
  <div style="position:absolute;left:894.70px;top:611.60px;width:387.80px;height:1.00px;background:#e3e3e5"></div>
  <div style="position:absolute;left:894.80px;top:627.20px;width:234.40px;height:21.40px;background:#e9e9ed;border:1px solid #8f8f9d;border-radius:4px"></div>
  <div class="ln" style="left:901.40px;top:629.50px;font-size:13px;line-height:18.2px;letter-spacing:0.283px;color:#111;">Als CSV in Zwischenablage kopieren</div>
  <div class="postbox" style="left:881.75px;top:681.70px;width:413.75px;height:174.60px"><div class="hd"><h2 style="letter-spacing:0.129px">Auf einen Blick</h2><svg width="20" height="20" viewBox="0 0 20 20" style="left:322.75px;top:8.6px"><path d="M4.2 12.3l5.8-5.6 5.8 5.6" fill="none" stroke="#60656b" stroke-width="1.9"/></svg><svg width="20" height="20" viewBox="0 0 20 20" style="left:350.75px;top:8.6px"><path d="M4.2 7.2l5.8 5.6 5.8-5.6" fill="none" stroke="#60656b" stroke-width="1.9"/></svg><svg width="20" height="20" viewBox="0 0 20 20" style="left:383.75px;top:8.6px"><path d="M6.3 11.5L10 5.9l3.7 5.6z" fill="#60656b"/></svg></div></div>
  <svg width="20" height="20" viewBox="0 0 20 20" style="position:absolute;left:894.40px;top:729.90px"><path fill="#50575e" d="M10.44 3.02l1.82-1.82 6.36 6.35-1.83 1.82c-1.05-.68-2.48-.57-3.41.36l-.75.75c-.92.93-1.04 2.35-.35 3.41l-1.83 1.82-2.41-2.41-2.8 2.79c-.42.42-3.38 2.71-3.8 2.29s1.86-3.39 2.28-3.81l2.79-2.79L4.1 9.36l1.83-1.82c1.05.69 2.48.57 3.4-.36l.75-.75c.93-.92 1.05-2.35.36-3.41z"/></svg>
  <div class="ln" style="left:919.80px;top:732.10px;font-size:13px;line-height:18.2px;letter-spacing:0.482px;color:#2b6aa2;">5 Beiträge</div>
  <svg width="20" height="20" viewBox="0 0 20 20" style="position:absolute;left:1088.30px;top:729.90px"><path fill="#50575e" d="M6 15V2h10v13H6zm-1 1h8v2H3V5h2v11z"/></svg>
  <div class="ln" style="left:1113.80px;top:732.10px;font-size:13px;line-height:18.2px;letter-spacing:0.445px;color:#2b6aa2;">54 Seiten</div>
  <svg width="20" height="20" viewBox="0 0 20 20" style="position:absolute;left:894.40px;top:760.00px"><path fill="#50575e" d="M13 11V4c0-.55-.45-1-1-1h-1.67L9 1H5L3.67 3H2c-.55 0-1 .45-1 1v7c0 .55.45 1 1 1h10c.55 0 1-.45 1-1zM7 4.5c1.38 0 2.5 1.12 2.5 2.5S8.38 9.5 7 9.5 4.5 8.38 4.5 7 5.62 4.5 7 4.5zM14 6h5v10.5c0 1.38-1.12 2.5-2.5 2.5S14 17.88 14 16.5s1.12-2.5 2.5-2.5c.17 0 .34.02.5.05V9h-3V6zm-4 8.05V13h2v3.5c0 1.38-1.12 2.5-2.5 2.5S7 17.88 7 16.5 8.12 14 9.5 14c.17 0 .34.02.5.05z"/></svg>
  <div class="ln" style="left:919.80px;top:762.20px;font-size:13px;line-height:18.2px;letter-spacing:0.535px;color:#2b6aa2;">20 Medien</div>
  <div style="position:absolute;left:1090.60px;top:763.10px;width:15.40px;height:15.40px;border:2.4px solid #50575e;border-radius:50%"></div>
  <div class="ln" style="left:1113.80px;top:762.20px;font-size:13px;line-height:18.2px;letter-spacing:0.417px;color:#2b6aa2;">0 Bildlinks</div>
  <div style="position:absolute;left:896.70px;top:793.20px;width:15.40px;height:15.40px;border:2.4px solid #50575e;border-radius:50%"></div>
  <div class="ln" style="left:919.80px;top:792.30px;font-size:13px;line-height:18.2px;letter-spacing:0.472px;color:#2b6aa2;">3 Kontakte</div>
  <div style="position:absolute;left:1090.60px;top:793.20px;width:15.40px;height:15.40px;border:2.4px solid #50575e;border-radius:50%"></div>
  <div class="ln" style="left:1113.80px;top:792.30px;font-size:13px;line-height:18.2px;letter-spacing:0.518px;color:#2b6aa2;">0 Standorte</div>
  <div class="ln" style="left:894.90px;top:826.60px;font-size:13px;line-height:18.2px;letter-spacing:0.257px;color:#3c434a;">WordPress 6.1.1 verwendet das Theme <span style="color:#2b6aa2;text-decoration:underline">FAU-Medfak</span>.</div>
  <div class="postbox" style="left:1311.50px;top:63.00px;width:413.75px;height:54.80px"><div class="hd"><h2 style="letter-spacing:0.236px">RRZE Wartungs- und Fehlermeldungen</h2><svg width="20" height="20" viewBox="0 0 20 20" style="left:322.75px;top:8.6px"><path d="M4.2 12.3l5.8-5.6 5.8 5.6" fill="none" stroke="#60656b" stroke-width="1.9"/></svg><svg width="20" height="20" viewBox="0 0 20 20" style="left:350.75px;top:8.6px"><path d="M4.2 7.2l5.8 5.6 5.8-5.6" fill="none" stroke="#60656b" stroke-width="1.9"/></svg><svg width="20" height="20" viewBox="0 0 20 20" style="left:383.75px;top:8.6px"><path d="M6.3 11.5L10 5.9l3.7 5.6z" fill="#60656b"/></svg></div></div>
  <div class="postbox" style="left:1311.50px;top:137.80px;width:413.75px;height:268.90px"><div class="hd"><h2 style="letter-spacing:0.471px">Aktivität</h2><svg width="20" height="20" viewBox="0 0 20 20" style="left:322.75px;top:8.6px"><path d="M4.2 12.3l5.8-5.6 5.8 5.6" fill="none" stroke="#60656b" stroke-width="1.9"/></svg><svg width="20" height="20" viewBox="0 0 20 20" style="left:350.75px;top:8.6px"><path d="M4.2 7.2l5.8 5.6 5.8-5.6" fill="none" stroke="#b5b8bb" stroke-width="1.9"/></svg><svg width="20" height="20" viewBox="0 0 20 20" style="left:383.75px;top:8.6px"><path d="M6.3 11.5L10 5.9l3.7 5.6z" fill="#60656b"/></svg></div></div>
  <div class="ln" style="left:1324.60px;top:184.55px;font-size:14px;line-height:19.6px;letter-spacing:0.545px;color:#1d2327;">Kürzlich veröffentlicht</div>
  <div class="ln" style="left:1324.60px;top:217.50px;font-size:13px;line-height:18.2px;letter-spacing:0.258px;color:#646970;">04.10., 13:29</div>
  <div class="ln" style="left:1483.10px;top:217.50px;font-size:13px;line-height:18.2px;letter-spacing:0.32px;color:#2b6aa2;">Influenza – Grippeviren im Fokus</div>
  <div class="ln" style="left:1324.60px;top:243.90px;font-size:13px;line-height:18.2px;letter-spacing:0.258px;color:#646970;">04.10., 13:25</div>
  <div class="ln" style="left:1483.10px;top:243.90px;font-size:13px;line-height:18.2px;letter-spacing:0.353px;color:#2b6aa2;">Elektronenmikroskopie – Erregern</div>
  <div class="ln" style="left:1324.60px;top:262.00px;font-size:13px;line-height:18.2px;letter-spacing:0.432px;color:#2b6aa2;">auf der Spur</div>
  <div class="ln" style="left:1324.60px;top:287.70px;font-size:13px;line-height:18.2px;letter-spacing:0.258px;color:#646970;">04.10., 12:37</div>
  <div class="ln" style="left:1483.10px;top:287.70px;font-size:13px;line-height:18.2px;letter-spacing:0.324px;color:#2b6aa2;">90 Sekunden Wissen: Was ist Zeit?</div>
  <div class="ln" style="left:1324.60px;top:314.10px;font-size:13px;line-height:18.2px;letter-spacing:0.258px;color:#646970;">04.10., 10:30</div>
  <div class="ln" style="left:1483.10px;top:314.10px;font-size:13px;line-height:18.2px;letter-spacing:0.425px;color:#2b6aa2;">Schnuppertag am Lehrstuhl für</div>
  <div class="ln" style="left:1324.60px;top:332.20px;font-size:13px;line-height:18.2px;letter-spacing:0.313px;color:#2b6aa2;">anorganische Chemie</div>
  <div class="ln" style="left:1324.60px;top:358.60px;font-size:13px;line-height:18.2px;letter-spacing:0.258px;color:#646970;">04.10., 10:16</div>
  <div class="ln" style="left:1483.10px;top:358.60px;font-size:13px;line-height:18.2px;letter-spacing:0.404px;color:#2b6aa2;">Dr. Liane Musterfrau erhält</div>
  <div class="ln" style="left:1324.60px;top:376.70px;font-size:13px;line-height:18.2px;letter-spacing:0.226px;color:#2b6aa2;">Ehrenpreis des NCI</div>
  <svg width="150" height="70" viewBox="1750 985 150 70" style="position:absolute;left:1590px;top:868px"><path d="M1756.0 1048.5V996.0H1792.5M1756.0 1021.0H1789.5" fill="none" stroke="#fff" stroke-width="1.9" opacity=".92"/><path d="M1760.7 1048.5V1000.7H1792.5M1760.7 1025.7H1789.5" fill="none" stroke="#fff" stroke-width="1.9" opacity=".92"/><path d="M1765.4 1048.5V1005.4H1792.5M1765.4 1030.4H1789.5" fill="none" stroke="#fff" stroke-width="1.9" opacity=".92"/><path d="M1793.5 1048.5L1816.5 998.0L1839.5 1048.5M1803.0 1038.0H1830.0" fill="none" stroke="#fff" stroke-width="1.9" opacity=".92"/><path d="M1798.435 1048.5L1816.5 1008.34L1834.565 1048.5M1805.115 1033.3H1827.885" fill="none" stroke="#fff" stroke-width="1.9" opacity=".92"/><path d="M1803.37 1048.5L1816.5 1018.68L1829.63 1048.5M1807.23 1028.6H1825.77" fill="none" stroke="#fff" stroke-width="1.9" opacity=".92"/><path d="M1847.0 996V1027a19.75 19.75 0 0 0 39.5 0V996" fill="none" stroke="#fff" stroke-width="1.9" opacity=".92"/><path d="M1851.7 996V1027a15.05 15.05 0 0 0 30.1 0V996" fill="none" stroke="#fff" stroke-width="1.9" opacity=".92"/><path d="M1856.4 996V1027a10.35 10.35 0 0 0 20.7 0V996" fill="none" stroke="#fff" stroke-width="1.9" opacity=".92"/></svg>
  <!--/WIDGETS-->
</div>

<div id="sb"><i></i></div>
<div id="status">musterlehrstuhl.multisiteblueprint.local/wp-admin/edit.php?post_type=imagelink</div>
<!--CURSOR--><svg class="abs" style="left:55.5px;top:423.5px;z-index:70" width="27.5" height="30" viewBox="0 0 22 24"><g transform="rotate(-14 11 12)"><path d="M8 3.200c.85 0 1.500.650 1.500 1.500v5l.5-.1c.7-.1 1.250.200 1.500.750.600-.300 1.400-.100 1.800.550.600-.250 1.400 0 1.700.650.300.600.400 1.300.400 2.200v1.700c0 1.400-.300 2.300-.800 3.100v1.400H9.400v-1.200c-.9-.750-1.550-1.700-2.400-3l-1.600-2.600c-.450-.750-.200-1.500.400-1.800.650-.300 1.250 0 1.450.500l.250.400V4.700c0-.850.650-1.500 1.500-1.500z" fill="#fff" stroke="#111" stroke-width="1.050" stroke-linejoin="round"/><path d="M10.300 12.700v3.200M12.300 12.700v3.200M14.200 12.900v3" stroke="#222" stroke-width=".85"/></g></svg><!--/CURSOR-->
</body>
</html>
